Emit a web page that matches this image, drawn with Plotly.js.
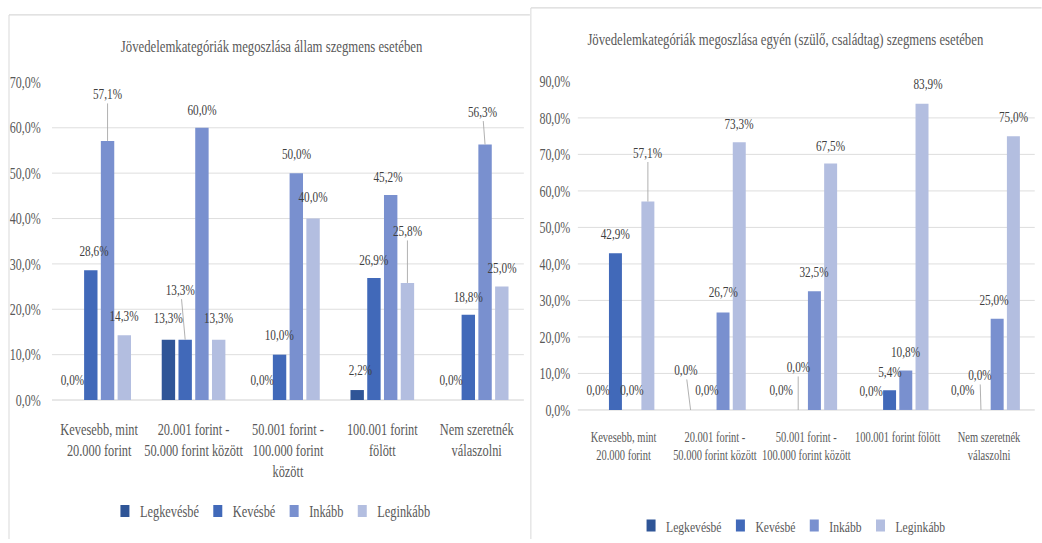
<!DOCTYPE html>
<html><head><meta charset="utf-8">
<script src="https://cdn.plot.ly/plotly-3.0.1.min.js"></script>
<style>
html,body{margin:0;padding:0;overflow:hidden;background:#fff;width:1042px;height:543px}
#wrap{width:1042px;height:543px;overflow:hidden;position:relative}
#chart{position:absolute;left:0;top:0;transform:scaleX(0.75);transform-origin:0 0}
</style></head><body><div id="wrap"><div id="chart"></div></div>
<script>
// ---- data ----
const categories = ['Kevesebb, mint 20.000 forint', '20.001 forint - 50.000 forint között', '50.001 forint - 100.000 forint között', '100.001 forint fölött', 'Nem szeretnék válaszolni'];
const tickLabelsAllam = ['Kevesebb, mint<br>20.000 forint', '20.001 forint -<br>50.000 forint között', '50.001 forint -<br>100.000 forint<br>között', '100.001 forint<br>fölött', 'Nem szeretnék<br>válaszolni'];
const tickLabelsEgyen = ['Kevesebb, mint<br>20.000 forint', '20.001 forint -<br>50.000 forint között', '50.001 forint -<br>100.000 forint között', '100.001 forint fölött', 'Nem szeretnék<br>válaszolni'];
const seriesNames = ['Legkevésbé', 'Kevésbé', 'Inkább', 'Leginkább'];
const titleAllam = 'Jövedelemkategóriák megoszlása állam szegmens esetében';
const titleEgyen = 'Jövedelemkategóriák megoszlása egyén (szülő, családtag) szegmens esetében';

const allamLegkevesbe = [0.0, 13.3, 0.0, 2.2, 0.0];
const allamKevesbe    = [28.6, 13.3, 10.0, 26.9, 18.8];
const allamInkabb     = [57.1, 60.0, 50.0, 45.2, 56.3];
const allamLeginkabb  = [14.3, 13.3, 40.0, 25.8, 25.0];

const egyenLegkevesbe = [0.0, 0.0, 0.0, 0.0, 0.0];
const egyenKevesbe    = [42.9, 0.0, 0.0, 5.4, 0.0];
const egyenInkabb     = [0.0, 26.7, 32.5, 10.8, 25.0];
const egyenLeginkabb  = [57.1, 73.3, 67.5, 83.9, 75.0];

// ---- styles ----
const SX = 0.75;
const W = 1042 / SX, H = 543;
const FONT = "'Liberation Serif', 'Times New Roman', 'DejaVu Serif', serif";
const colors = ['#2f5597', '#4169b9', '#7990cf', '#b3bee0'];
const BARGAP = 0.29;
const slotFrac = (1 - BARGAP) / 4;

// label offsets (px, vertical from bar top / horizontal from bar centre in screen px) and leader flags
const allamDy = [[-20,-22,-20,-20,-20],[-19,-50,-20,-18,-18],[-47,-18,-19,-18,-33],[-19,-22,-22,-52,-19]];
const allamDx = [[-1.5,0,-0.5,3.5,-0.5],[3,-4.5,0,0,0],[0,0,0,-2.5,-2.5],[0,0,0,0,0]];
const allamLead = [[0,0,0,0,0],[0,1,0,0,0],[1,0,0,0,1],[0,0,0,1,0]];
const egyenDy = [[-20,-40,-20,-19,-20],[-19,-20,-43,-18,-35],[-20,-20,-19.5,-19,-19],[-49,-18,-18,-20,-19]];
const egyenDx = [[-1,-5,-1,-2,-2],[0,0,0,0,-1],[0,0,0,0,-3],[0,0,0,6,0]];
const egyenLead = [[0,1,0,0,0],[0,0,1,0,1],[0,0,0,0,0],[1,0,0,0,0]];

const allamSeries = [allamLegkevesbe, allamKevesbe, allamInkabb, allamLeginkabb];
const egyenSeries = [egyenLegkevesbe, egyenKevesbe, egyenInkabb, egyenLeginkabb];

const fmt = v => v.toFixed(1).replace('.', ',') + '%';

const traces = [];
const annotations = [];

function addChart(series, xa, ya, legendId, dy, dx, lead, labelSize) {
  series.forEach((vals, s) => {
    traces.push({
      type: 'bar', x: categories, y: vals, name: seriesNames[s],
      marker: {color: colors[s]}, xaxis: xa, yaxis: ya, legend: legendId,
      hoverinfo: 'skip'
    });
    vals.forEach((v, i) => {
      annotations.push({
        xref: xa, yref: ya,
        x: i + (s - 1.5) * slotFrac, y: v,
        text: fmt(v), showarrow: true, arrowhead: 0, arrowwidth: 1,
        arrowcolor: lead[s][i] ? '#a6a6a6' : 'rgba(0,0,0,0)',
        standoff: 0, startstandoff: 0,
        ax: dx[s][i] / SX, ay: dy[s][i],
        font: {family: FONT, size: labelSize, color: '#404040'}
      });
    });
  });
}
addChart(allamSeries, 'x', 'y', 'legend', allamDy, allamDx, allamLead, 15);
addChart(egyenSeries, 'x2', 'y2', 'legend2', egyenDy, egyenDx, egyenLead, 15);

annotations.push({xref:'paper', yref:'paper', x: 272/1042, y: 1-47/543, xanchor:'center', yanchor:'middle',
  text: titleAllam, showarrow:false, font:{family:FONT, size:17, color:'#595959'}});
annotations.push({xref:'paper', yref:'paper', x: 786/1042, y: 1-40/543, xanchor:'center', yanchor:'middle',
  text: titleEgyen, showarrow:false, font:{family:FONT, size:17, color:'#595959'}});

const lineC = '#d9d9d9';
const shapes = [
  {type:'line', xref:'paper', yref:'paper', x0:9/1042, x1:530/1042, y0:1-15/543, y1:1-15/543, line:{color:lineC, width:1.3}},
  {type:'line', xref:'paper', yref:'paper', x0:9/1042, x1:9/1042, y0:1-15/543, y1:0, line:{color:lineC, width:1.3}},
  {type:'line', xref:'paper', yref:'paper', x0:531/1042, x1:1, y0:1-8/543, y1:1-8/543, line:{color:lineC, width:1.3}},
  {type:'line', xref:'paper', yref:'paper', x0:531/1042, x1:531/1042, y0:1-8/543, y1:0, line:{color:lineC, width:1.3}}
];

const yCommon = {
  dtick: 10, tickformat: '.1f', ticksuffix: '%', showgrid: true, gridcolor: '#d9d9d9', gridwidth: 1,
  zeroline: true, zerolinecolor: '#c9c9c9', zerolinewidth: 1, showline: false, ticks: '',
  tickfont: {family: FONT, size: 16, color: '#595959'}, fixedrange: true
};
const xCommon = {
  type: 'category', showgrid: false, zeroline: false, showline: false, ticks: '',
  tickvals: categories, fixedrange: true, tickangle: 0
};

const layout = {
  width: W, height: H, autosize: false,
  margin: {l: 0, r: 0, t: 0, b: 0, pad: 0},
  paper_bgcolor: '#ffffff', plot_bgcolor: 'rgba(0,0,0,0)',
  separators: ', ',
  barmode: 'group', bargap: BARGAP, bargroupgap: 0.2,
  hovermode: false,
  font: {family: FONT, color: '#595959'},
  xaxis: Object.assign({}, xCommon, {domain: [52/1042, 524/1042], anchor: 'y', ticktext: tickLabelsAllam,
    tickfont: {family: FONT, size: 16.5, color: '#595959'}, ticklabelstandoff: 17}),
  yaxis: Object.assign({}, yCommon, {domain: [1-403/543, 1-83/543], range: [0, 70], anchor: 'x', ticklabelstandoff: 14}),
  xaxis2: Object.assign({}, xCommon, {domain: [578/1042, 1035/1042], anchor: 'y2', ticktext: tickLabelsEgyen,
    tickfont: {family: FONT, size: 14, color: '#595959'}, ticklabelstandoff: 17}),
  yaxis2: Object.assign({}, yCommon, {domain: [1-413/543, 1-82/543], range: [0, 90], anchor: 'x2', ticklabelstandoff: 9}),
  legend: {orientation: 'h', x: 272/1042, xanchor: 'center', y: 1-515/543, yanchor: 'middle',
    font: {family: FONT, size: 16.5, color: '#595959'}, bgcolor: 'rgba(0,0,0,0)', traceorder: 'normal'},
  legend2: {orientation: 'h', x: 793/1042, xanchor: 'center', y: 1-530/543, yanchor: 'middle',
    font: {family: FONT, size: 15.5, color: '#595959'}, bgcolor: 'rgba(0,0,0,0)', traceorder: 'normal'},
  annotations: annotations,
  shapes: shapes,
  showlegend: true
};

Plotly.newPlot('chart', traces, layout, {displayModeBar: false, staticPlot: true});
</script></body></html>
